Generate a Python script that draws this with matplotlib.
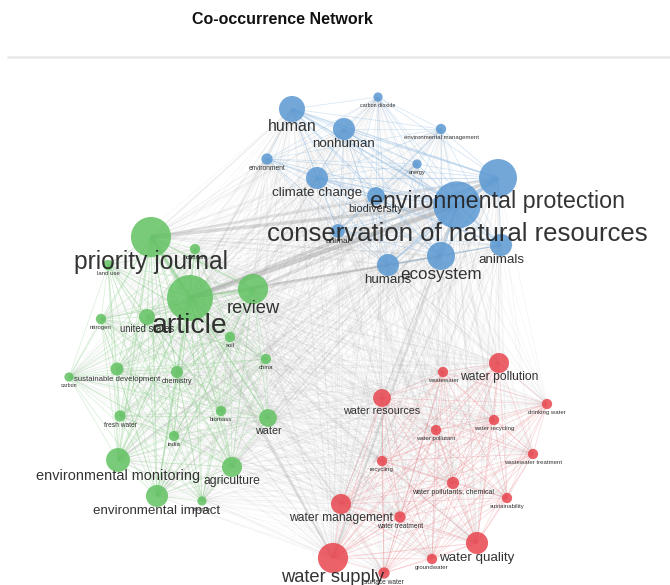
import itertools

import matplotlib
matplotlib.use("Agg")
import matplotlib.pyplot as plt
import numpy as np
from matplotlib.collections import LineCollection

plt.rcParams["font.family"] = ["Liberation Sans", "DejaVu Sans"]

TITLE = "Co-occurrence Network"

# keyword clusters: name, layout x, layout y, occurrences
BLUE_TERMS = ["human", "nonhuman", "carbon dioxide", "environmental management",
              "environment", "energy", "climate change", "biodiversity",
              "environmental protection", "conservation of natural resources",
              "animal", "humans", "ecosystem", "animals"]
BLUE_X = [292, 344, 378, 441, 267, 417, 317, 376, 498, 457, 338, 388, 441, 501]
BLUE_Y = [109, 129, 97, 129, 159, 164, 178, 196, 178, 205, 231, 265, 256, 245]
BLUE_OCC = [32, 23, 4, 5, 6, 4, 23, 15, 68, 106, 9, 23, 37, 23]

GREEN_TERMS = ["priority journal", "article", "review", "pollution", "land use",
               "nitrogen", "united states", "soil", "china",
               "sustainable development", "carbon", "chemistry", "fresh water",
               "biomass", "water", "india", "environmental monitoring",
               "agriculture", "environmental impact", "forestry"]
GREEN_X = [151, 190, 253, 195, 108, 101, 147, 230, 266, 117, 69, 177, 120,
           221, 268, 174, 118, 232, 157, 202]
GREEN_Y = [237, 298, 289, 249, 265, 319, 317, 337, 359, 369, 377, 372, 416,
           411, 418, 436, 460, 467, 496, 501]
GREEN_OCC = [76, 100, 43, 5, 5, 5, 12, 5, 5, 8, 4, 7, 6, 5, 15, 5, 27, 19, 23, 4]

RED_TERMS = ["water pollution", "wastewater", "water resources", "drinking water",
             "water recycling", "water pollutant", "wastewater treatment",
             "recycling", "water pollutants, chemical", "sustainability",
             "water management", "water treatment", "water quality",
             "groundwater", "water supply", "surface water"]
RED_X = [499, 443, 382, 547, 494, 436, 533, 382, 453, 507, 341, 400, 477, 432,
         333, 384]
RED_Y = [363, 372, 398, 404, 420, 430, 454, 461, 483, 498, 504, 517, 543, 559,
         558, 573]
RED_OCC = [19, 5, 15, 5, 5, 5, 5, 5, 7, 5, 19, 6, 23, 5, 43, 6]

NODE_COLORS = ["#5a98d2", "#62c262", "#e8464f"]
EDGE_COLORS = ["#8ab6df", "#8ccf8c", "#ef8a90"]

# label font overrides (long labels are drawn a bit smaller)
LABEL_SIZE = {"conservation of natural resources": 18.5}


def radius(occ):
    return 2.3 * np.sqrt(occ)


def main():
    dpi = 100
    fig = plt.figure(figsize=(6.7, 5.85), dpi=dpi, facecolor="white")
    ax = fig.add_axes([0, 0, 1, 1])
    ax.set_xlim(0, 670)
    ax.set_ylim(585, 0)
    ax.axis("off")

    terms = BLUE_TERMS + GREEN_TERMS + RED_TERMS
    xs = np.array(BLUE_X + GREEN_X + RED_X, dtype=float)
    ys = np.array(BLUE_Y + GREEN_Y + RED_Y, dtype=float)
    occ = np.array(BLUE_OCC + GREEN_OCC + RED_OCC, dtype=float)
    cluster = np.array([0] * len(BLUE_TERMS) + [1] * len(GREEN_TERMS) + [2] * len(RED_TERMS))

    # edges: every pair co-occurs, strength from occurrences
    grey_segs, grey_w, grey_a = [], [], []
    col_segs, col_w, col_c = [], [], []
    top = occ.max() ** 2
    for i, j in itertools.combinations(range(len(terms)), 2):
        w = occ[i] * occ[j] / top
        seg = [(xs[i], ys[i]), (xs[j], ys[j])]
        if cluster[i] == cluster[j]:
            col_segs.append(seg)
            col_w.append(0.5 + 2.5 * w)
            col_c.append(matplotlib.colors.to_rgba(EDGE_COLORS[cluster[i]], 0.35 + 0.4 * w))
        else:
            grey_segs.append(seg)
            grey_w.append(0.4 + 3.0 * w)
            grey_a.append(matplotlib.colors.to_rgba("#9a9a9a", 0.10 + 0.35 * w))

    ax.add_collection(LineCollection(grey_segs, linewidths=grey_w, colors=grey_a, zorder=1))
    ax.add_collection(LineCollection(col_segs, linewidths=col_w, colors=col_c, zorder=2))

    r = radius(occ)
    s = (2 * r * 72 / dpi) ** 2
    ax.scatter(xs, ys, s=s, c=[NODE_COLORS[k] for k in cluster], alpha=0.85,
               linewidths=0, zorder=3)

    # labels sit centred just under their node
    for term, x, y, rad in zip(terms, xs, ys, r):
        fs = LABEL_SIZE.get(term, 0.9 * rad - 0.3)
        ax.text(x, y + 1.1 * rad + 3, term, fontsize=fs, color="#222222", alpha=0.92,
                ha="center", va="center", zorder=4)

    ax.plot([8, 670], [57, 57], color="#e8e8e8", lw=1.8, zorder=0)
    fig.text(282 / 670, 1 - 19 / 585, TITLE, fontsize=11.5, fontweight="bold",
             ha="center", va="center", color="#111111")

    fig.savefig("out.png", dpi=dpi, facecolor="white")


if __name__ == "__main__":
    main()
